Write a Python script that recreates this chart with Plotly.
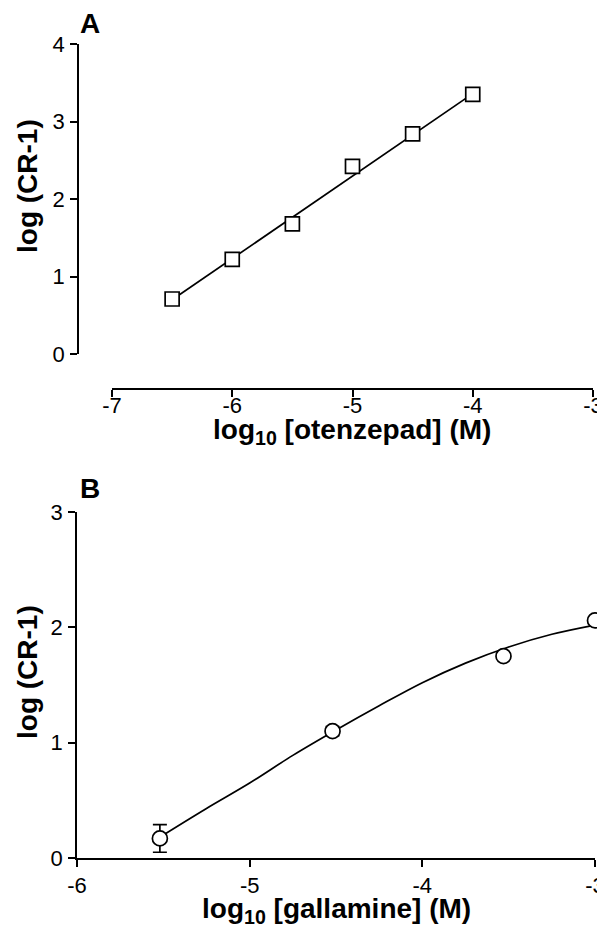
import plotly.graph_objects as go

# Panel A: otenzepad
otz_x = [-6.5, -6.0, -5.5, -5.0, -4.5, -4.0]
otz_y = [0.71, 1.22, 1.68, 2.42, 2.84, 3.35]
otz_fit_x = [-6.5, -4.0]
otz_fit_y = [0.70, 3.36]

# Panel B: gallamine
gal_x = [-5.52, -4.52, -3.53, -3.0]
gal_y = [0.17, 1.10, 1.75, 2.06]
gal_err = [0.12, 0.04, 0.0, 0.0]
gal_fit_x = [-5.5, -5.25, -5.0, -4.75, -4.5, -4.25, -4.0, -3.75, -3.5, -3.25, -3.0]
gal_fit_y = [0.20, 0.43, 0.65, 0.89, 1.11, 1.32, 1.52, 1.69, 1.83, 1.94, 2.02]

ticks_a_x = [-7, -6, -5, -4, -3]
ticks_a_y = [0, 1, 2, 3, 4]
ticks_b_x = [-6, -5, -4, -3]
ticks_b_y = [0, 1, 2, 3]

# page body has an 8px margin; figure sized to fill the rest of the window
OFF = 8
W, H = 605 - OFF, 930 - OFF
def px(x): return (x - OFF) / W
def py(y): return 1 - (y - OFF) / H

FONT = "Liberation Sans, Arial, sans-serif"
TICKSIZE = 22
fig = go.Figure()

fig.add_trace(go.Scatter(x=otz_fit_x, y=otz_fit_y, mode="lines",
                         line=dict(color="black", width=1.7),
                         xaxis="x", yaxis="y", showlegend=False, cliponaxis=False))
fig.add_trace(go.Scatter(x=otz_x, y=otz_y, mode="markers",
                         marker=dict(symbol="square", size=14, color="white",
                                     line=dict(color="black", width=1.7)),
                         xaxis="x", yaxis="y", showlegend=False, cliponaxis=False))

fig.add_trace(go.Scatter(x=gal_fit_x, y=gal_fit_y, mode="lines",
                         line=dict(color="black", width=1.7, shape="spline"),
                         xaxis="x2", yaxis="y2", showlegend=False, cliponaxis=False))
fig.add_trace(go.Scatter(x=gal_x, y=gal_y, mode="markers",
                         error_y=dict(type="data", array=gal_err, color="black",
                                      thickness=1.7, width=7),
                         marker=dict(symbol="circle", size=15, color="white",
                                     line=dict(color="black", width=1.7)),
                         xaxis="x2", yaxis="y2", showlegend=False, cliponaxis=False))

def axis(**kw):
    d = dict(showgrid=False, zeroline=False, showline=True, linecolor="black",
             linewidth=1.5, ticks="outside", ticklen=7, tickwidth=1.5,
             tickcolor="black", fixedrange=True, automargin=False,
             tickmode="array",
             tickfont=dict(family=FONT, size=TICKSIZE, color="black"))
    d.update(kw)
    return d

def labels(vals):
    return [str(v) for v in vals]

fig.update_layout(
    template="none",
    font=dict(family=FONT, size=TICKSIZE, color="black"),
    width=W, height=H,
    margin=dict(l=0, r=0, t=0, b=0, autoexpand=False),
    paper_bgcolor="white", plot_bgcolor="white",
    xaxis=axis(domain=[px(112), px(593)], range=[-7, -3], tickvals=ticks_a_x,
               ticktext=labels(ticks_a_x), ticklabelstandoff=-10,
               anchor="free", position=py(389)),
    yaxis=axis(domain=[py(354), py(44)], range=[0, 4], tickvals=ticks_a_y,
               ticktext=labels(ticks_a_y), ticklabelstandoff=1,
               anchor="free", position=px(78)),
    xaxis2=axis(domain=[px(77), px(595)], range=[-6, -3], tickvals=ticks_b_x,
                ticktext=labels(ticks_b_x), ticklabelstandoff=0,
                anchor="y2"),
    yaxis2=axis(domain=[py(858), py(512)], range=[0, 3], tickvals=ticks_b_y,
                ticktext=labels(ticks_b_y), ticklabelstandoff=1,
                anchor="x2"),
)

title_font = dict(family=FONT, size=28, color="black")
ann = [
    dict(text="<b>A</b>", x=px(90), y=py(23), font=dict(family=FONT, size=28, color="black")),
    dict(text="<b>B</b>", x=px(90), y=py(489), font=dict(family=FONT, size=28, color="black")),
    dict(text="<b>log (CR-1)</b>", x=px(27), y=py(186), textangle=-90, font=title_font),
    dict(text="<b>log (CR-1)</b>", x=px(27), y=py(672), textangle=-90, font=title_font),
    dict(text="<b>log<sub>10</sub> [otenzepad] (M)</b>", x=px(352), y=py(431), font=title_font),
    dict(text="<b>log<sub>10</sub> [gallamine] (M)</b>", x=px(336), y=py(910), font=title_font),
]
for a in ann:
    fig.add_annotation(xref="paper", yref="paper", showarrow=False,
                       xanchor="center", yanchor="middle", **a)

fig.write_html("out.html")
